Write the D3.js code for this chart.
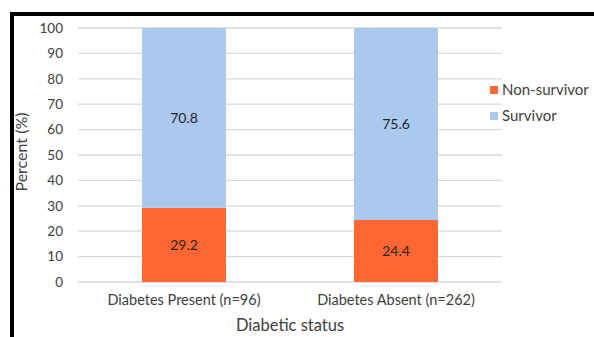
<!DOCTYPE html>
<html><head><meta charset="utf-8">
<script src="https://cdn.jsdelivr.net/npm/d3@7"></script>
<style>body{margin:0;background:#fff}svg{display:block}text{font-family:Lato,"Open Sans",sans-serif;fill:#404040}</style>
</head><body><svg id="c" width="594" height="337"></svg>
<script>
const categories = ["Diabetes Present (n=96)", "Diabetes Absent (n=262)"];
const seriesNames = ["Non-survivor", "Survivor"];
const nonSurvivor = [29.2, 24.4];
const survivor = [70.8, 75.6];
const yTicks = [0,10,20,30,40,50,60,70,80,90,100];
const colors = ["#FF6633", "#A9C9EE"];

const svg = d3.select("#c");
svg.append("rect").attr("width",594).attr("height",337).attr("fill","#fff");
// frame
svg.append("rect").attr("x",10).attr("y",12).attr("width",4).attr("height",325).attr("fill","#000");
svg.append("rect").attr("x",10).attr("y",12).attr("width",584).attr("height",4).attr("fill","#000");

const L=78,R=502,T=28,B=282;
const x = d3.scaleBand().domain(categories).range([L,R]).paddingInner(0.604).paddingOuter(0.302);
const y = d3.scaleLinear().domain([0,100]).range([B,T]);

const grid = svg.append("g");
grid.selectAll("line").data(yTicks).join("line")
  .attr("x1",L).attr("x2",R).attr("y1",d=>y(d)).attr("y2",d=>y(d))
  .attr("stroke","#d9d9d9").attr("stroke-width",1.3);

const yAxis = svg.append("g").attr("transform",`translate(${L},0)`)
  .call(d3.axisLeft(y).tickValues(yTicks).tickSize(0).tickPadding(15));
yAxis.select(".domain").remove();
yAxis.selectAll("text").attr("font-size",13.5).style("fill","#404040").attr("font-family","Lato");

const xAxis = svg.append("g").attr("transform",`translate(0,${B})`)
  .call(d3.axisBottom(x).tickSize(0).tickPadding(13));
xAxis.select(".domain").remove();
xAxis.selectAll("text").attr("font-size",14.5).style("fill","#404040").attr("font-family","Lato");

const stackData = categories.map((c,i)=>({cat:c,"Non-survivor":nonSurvivor[i],"Survivor":survivor[i]}));
const stacked = d3.stack().keys(seriesNames)(stackData);
const g = svg.append("g");
stacked.forEach((s,si)=>{
  g.selectAll(null).data(s).join("rect")
    .attr("x",d=>x(d.data.cat)).attr("width",x.bandwidth())
    .attr("y",d=>y(d[1])).attr("height",d=>y(d[0])-y(d[1]))
    .attr("fill",colors[si]);
  g.selectAll(null).data(s).join("text")
    .attr("x",d=>x(d.data.cat)+x.bandwidth()/2)
    .attr("y",d=>(y(d[0])+y(d[1]))/2)
    .attr("text-anchor","middle").attr("dy","0.35em")
    .attr("font-size",14).style("fill","#262626")
    .text(d=>(d[1]-d[0]).toFixed(1));
});

svg.append("text").attr("transform",`translate(27,152) rotate(-90)`)
  .attr("text-anchor","middle").attr("font-size",16).text("Percent (%)");
svg.append("text").attr("x",290).attr("y",331)
  .attr("text-anchor","middle").attr("font-size",16.5).text("Diabetic status");

const leg = svg.append("g");
seriesNames.forEach((n,i)=>{
  const yy = 90 + i*26;
  leg.append("rect").attr("x",490).attr("y",yy-4).attr("width",8).attr("height",8).attr("fill",colors[i]);
  leg.append("text").attr("x",502).attr("y",yy).attr("dy","0.35em").attr("font-size",15).text(n);
});
</script></body></html>
